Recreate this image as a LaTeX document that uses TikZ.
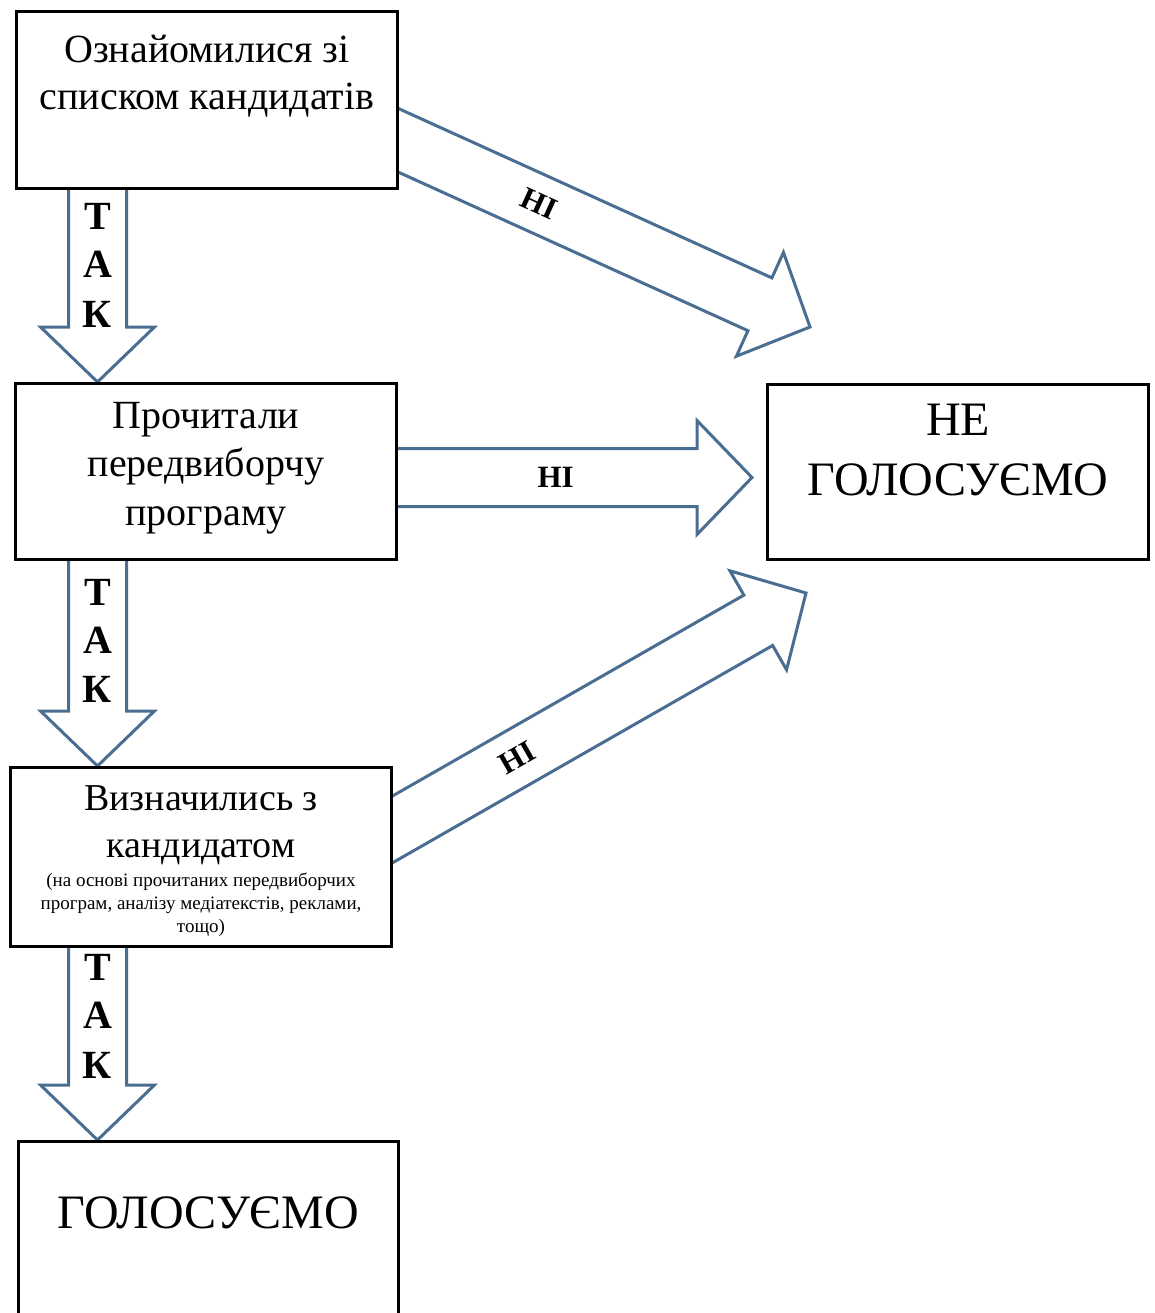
\documentclass[tikz,border=0pt]{standalone}
\usepackage{fontspec}
\setmainfont{Liberation Serif}
\usetikzlibrary{calc}
\definecolor{arrblue}{RGB}{74,110,146}
\tikzset{
  box/.style={draw=black, line width=3pt, fill=white, inner sep=0pt, anchor=north west},
  bigarrow/.style={draw=arrblue, line width=3pt, fill=white, line join=miter},
  main/.style={anchor=base, inner sep=0pt, font=\fontsize{40}{47}\selectfont},
  mainb/.style={anchor=base, inner sep=0pt, font=\fontsize{38}{47}\selectfont},
  big/.style={anchor=base, inner sep=0pt, font=\fontsize{48}{58}\selectfont},
  small/.style={anchor=base, inner sep=0pt, font=\fontsize{19}{22}\selectfont},
  tak/.style={anchor=base, inner sep=0pt, font=\fontsize{40}{44}\selectfont\bfseries},
  ni/.style={inner sep=0pt, font=\fontsize{31}{36}\selectfont\bfseries},
}
\def\arrSW{29pt}
\def\arrHW{57pt}
\def\arrHL{55pt}
\newcommand\blockarrow[2]{%
  \coordinate (ba-b) at ($(#2)!\arrHL!(#1)$);
  \draw[bigarrow] ($(#1)!\arrSW!90:(#2)$) -- ($(ba-b)!\arrSW!-90:(#1)$)
    -- ($(ba-b)!\arrHW!-90:(#1)$) -- (#2) -- ($(ba-b)!\arrHW!90:(#1)$)
    -- ($(ba-b)!\arrSW!90:(#1)$) -- ($(#1)!\arrSW!-90:(#2)$) -- cycle;
}
\begin{document}
\begin{tikzpicture}[x=1pt,y=-1pt]
\clip (0,0) rectangle (1154,1313);
\fill[white] (0,0) rectangle (1154,1313);
% boxes (positions)
\path
  (15,10)   node[box, minimum width=381pt, minimum height=177pt] (b1) {}
  (14,382)  node[box, minimum width=381pt, minimum height=176pt] (b2) {}
  (9,766)   node[box, minimum width=381pt, minimum height=179pt] (b3) {}
  (17,1140) node[box, minimum width=380pt, minimum height=200pt] (b4) {}
  (766,383) node[box, minimum width=381pt, minimum height=175pt] (ne) {};
% arrow end points
\coordinate (a1s) at ($(b1.south west)+(82.5,-3)$);
\coordinate (a1t) at ($(b2.north west)+(83.5,0)$);
\coordinate (a2s) at ($(b2.south west)+(83.5,-3)$);
\coordinate (a2t) at ($(b3.north west)+(88.5,0)$);
\coordinate (a3s) at ($(b3.south west)+(88.5,-3)$);
\coordinate (a3t) at ($(b4.north west)+(80.5,0)$);
\coordinate (hs) at ($(b2.east)+(-3,6)$);
\coordinate (ht) at ($(ne.west)+(-14,5.5)$);
\coordinate (d1s) at ($(b1.east)+(-19,32)$);
\coordinate (d1t) at ($(ne.north west)+(44,-56)$);
\coordinate (d2s) at ($(b3.east)+(-18,-17.6)$);
\coordinate (d2t) at ($(ne.south west)+(40,32)$);
\blockarrow{a1s}{a1t}
\blockarrow{a2s}{a2t}
\blockarrow{a3s}{a3t}
\blockarrow{hs}{ht}
\blockarrow{d1s}{d1t}
\blockarrow{d2s}{d2t}
% redraw boxes on top
\path
  (15,10)   node[box, minimum width=381pt, minimum height=177pt] {}
  (14,382)  node[box, minimum width=381pt, minimum height=176pt] {}
  (9,766)   node[box, minimum width=381pt, minimum height=179pt] {}
  (17,1140) node[box, minimum width=380pt, minimum height=200pt] {}
  (766,383) node[box, minimum width=381pt, minimum height=175pt] {};
% texts
\node[main] at ($(b1.north)+(0,53)$) {Ознайомилися зі};
\node[main] at ($(b1.north)+(0,100)$) {списком кандидатів};
\node[main] at ($(b2.north)+(0,46)$) {Прочитали};
\node[main] at ($(b2.north)+(0,94)$) {передвиборчу};
\node[main] at ($(b2.north)+(0,143)$) {програму};
\node[mainb] at ($(b3.north)+(0,44)$) {Визначились з};
\node[mainb] at ($(b3.north)+(0,91)$) {кандидатом};
\node[small] at ($(b3.north)+(0,120)$) {(на основі прочитаних передвиборчих};
\node[small] at ($(b3.north)+(0,143)$) {програм, аналізу медіатекстів, реклами,};
\node[small] at ($(b3.north)+(0,166)$) {тощо)};
\node[big] at ($(ne.north)+(0,52)$) {НЕ};
\node[big] at ($(ne.north)+(0,112)$) {ГОЛОСУЄМО};
\node[big] at ($(b4.north)+(0,88)$) {ГОЛОСУЄМО};
% labels
\foreach \yy/\ll in {230/Т,278/А,327/К,605/Т,653/А,702/К,980/Т,1028/А,1078/К}
  \node[tak] at (97.5,\yy) {\ll};
\node[ni] at ($(hs)!0.45!(ht)$) {НІ};
\node[ni, rotate=-24.4] at ($(d1s)!0.37!(d1t)$) {НІ};
\node[ni, rotate=29.7] at ($(d2s)!0.33!(d2t)$) {НІ};
\end{tikzpicture}
\end{document}
